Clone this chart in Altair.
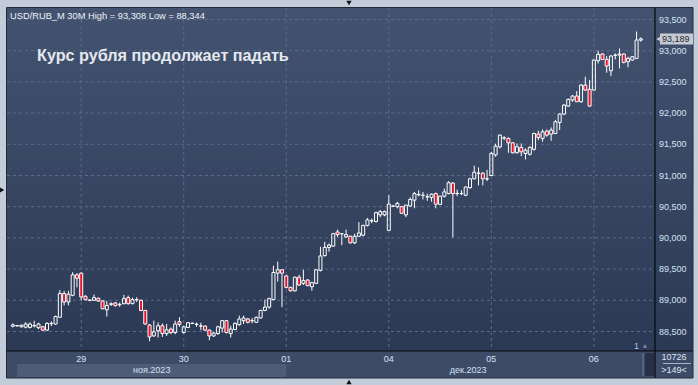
import altair as alt
import pandas as pd

# ---------------- data ----------------
opens = [88.585, 88.590, 88.575, 88.570, 88.565, 88.590, 88.560, 88.576, 88.522, 88.625,
         88.620, 88.728, 89.109, 88.973, 89.080, 89.408, 89.435, 89.065, 89.005, 89.000,
         89.033, 88.990, 88.848, 88.935, 88.957, 88.930, 88.946, 89.043, 88.946, 89.008,
         89.000, 88.837, 88.603, 88.429, 88.511, 88.592, 88.467, 88.538, 88.484, 88.658,
         88.484, 88.565, 88.630, 88.614, 88.587, 88.587, 88.522, 88.429, 88.467, 88.554,
         88.674, 88.467, 88.533, 88.609, 88.674, 88.701, 88.672, 88.647, 88.717, 88.837,
         88.891, 89.011, 89.435, 89.489, 89.391, 89.207, 89.152, 89.370, 89.272, 89.326,
         89.217, 89.272, 89.479, 89.716, 89.847, 89.868, 90.095, 90.066, 90.016, 90.026,
         89.921, 90.026, 90.042, 90.200, 90.273, 90.263, 90.368, 90.368, 90.121, 90.508,
         90.500, 90.500, 90.368, 90.510, 90.605, 90.690, 90.682, 90.658, 90.647, 90.710,
         90.537, 90.668, 90.710, 90.879, 90.710, 90.710, 90.684, 90.805, 90.947, 91.035,
         91.037, 90.945, 91.000, 91.330, 91.460, 91.600, 91.594, 91.524, 91.364, 91.450,
         91.353, 91.340, 91.420, 91.663, 91.594, 91.711, 91.663, 91.674, 91.850, 91.984,
         92.112, 92.210, 92.273, 92.182, 92.449, 92.380, 92.369, 92.840, 92.947, 92.861,
         92.679, 92.925, 92.930, 92.947, 92.824, 92.850, 92.877, 93.170]
highs = [88.630, 88.605, 88.610, 88.650, 88.645, 88.674, 88.640, 88.590, 88.647, 88.663,
         88.755, 89.163, 89.152, 89.152, 89.451, 89.435, 89.446, 89.080, 89.011, 89.092,
         89.043, 89.000, 88.989, 88.967, 88.973, 88.962, 89.087, 89.076, 89.043, 89.049,
         89.011, 88.848, 88.620, 88.674, 88.647, 88.630, 88.620, 88.565, 88.674, 88.728,
         88.592, 88.652, 88.641, 88.641, 88.641, 88.598, 88.533, 88.495, 88.592, 88.685,
         88.685, 88.592, 88.647, 88.755, 88.755, 88.717, 88.717, 88.739, 88.848, 89.011,
         89.043, 89.554, 89.620, 89.500, 89.402, 89.217, 89.380, 89.408, 89.489, 89.337,
         89.299, 89.500, 89.858, 89.937, 89.911, 90.079, 90.132, 90.079, 90.132, 90.037,
         90.068, 90.253, 90.211, 90.320, 90.310, 90.421, 90.447, 90.437, 90.684, 90.520,
         90.579, 90.511, 90.526, 90.647, 90.737, 90.763, 90.737, 90.710, 90.710, 90.726,
         90.679, 90.790, 90.910, 90.895, 90.774, 90.763, 90.826, 90.963, 91.158, 91.130,
         91.053, 91.090, 91.380, 91.510, 91.658, 91.630, 91.610, 91.535, 91.513, 91.513,
         91.433, 91.470, 91.685, 91.717, 91.738, 91.738, 91.770, 91.888, 91.995, 92.144,
         92.235, 92.289, 92.353, 92.465, 92.583, 92.529, 92.861, 93.000, 92.957, 92.914,
         92.930, 92.957, 93.037, 92.957, 92.904, 92.915, 93.308, 93.214]
lows = [88.565, 88.580, 88.565, 88.550, 88.550, 88.565, 88.540, 88.510, 88.510, 88.587,
        88.610, 88.720, 88.918, 88.918, 89.065, 89.207, 89.000, 89.000, 88.984, 88.990,
        88.973, 88.859, 88.739, 88.908, 88.902, 88.897, 88.935, 88.930, 88.935, 88.973,
        88.826, 88.610, 88.344, 88.413, 88.402, 88.413, 88.429, 88.457, 88.457, 88.576,
        88.467, 88.554, 88.620, 88.576, 88.522, 88.511, 88.360, 88.413, 88.446, 88.484,
        88.467, 88.402, 88.522, 88.592, 88.620, 88.630, 88.630, 88.641, 88.707, 88.826,
        88.864, 89.000, 89.299, 88.891, 89.190, 89.141, 89.141, 89.228, 89.245, 89.228,
        89.152, 89.261, 89.463, 89.700, 89.779, 89.858, 90.016, 89.884, 90.000, 89.910,
        89.900, 90.016, 90.026, 90.184, 90.237, 90.247, 90.332, 90.347, 90.121, 90.495,
        90.474, 90.384, 90.332, 90.500, 90.474, 90.668, 90.616, 90.595, 90.579, 90.474,
        90.526, 90.647, 90.700, 90.010, 90.668, 90.684, 90.668, 90.789, 90.937, 90.842,
        90.842, 90.910, 90.990, 91.300, 91.433, 91.567, 91.364, 91.353, 91.353, 91.310,
        91.257, 91.320, 91.396, 91.567, 91.540, 91.620, 91.556, 91.663, 91.727, 91.968,
        92.100, 92.182, 92.182, 92.166, 92.358, 92.100, 92.358, 92.797, 92.850, 92.647,
        92.594, 92.861, 92.717, 92.797, 92.733, 92.840, 92.877, 93.144]
closes = [88.605, 88.595, 88.600, 88.620, 88.620, 88.595, 88.620, 88.522, 88.630, 88.630,
          88.740, 89.109, 88.973, 89.098, 89.408, 89.353, 89.054, 89.010, 89.000, 89.043,
          88.990, 88.864, 88.918, 88.945, 88.913, 88.935, 89.027, 88.946, 89.011, 89.011,
          88.837, 88.620, 88.413, 88.494, 88.592, 88.467, 88.527, 88.484, 88.620, 88.614,
          88.576, 88.641, 88.633, 88.617, 88.590, 88.522, 88.429, 88.473, 88.576, 88.674,
          88.484, 88.538, 88.630, 88.701, 88.717, 88.647, 88.674, 88.728, 88.837, 88.891,
          89.027, 89.446, 89.489, 89.435, 89.207, 89.152, 89.370, 89.245, 89.315, 89.234,
          89.283, 89.489, 89.711, 89.847, 89.884, 90.068, 90.053, 90.068, 90.053, 89.921,
          90.026, 90.079, 90.200, 90.289, 90.274, 90.405, 90.421, 90.421, 90.542, 90.511,
          90.553, 90.395, 90.526, 90.616, 90.710, 90.695, 90.684, 90.660, 90.700, 90.542,
          90.668, 90.737, 90.884, 90.710, 90.713, 90.712, 90.816, 90.947, 91.053, 91.037,
          90.947, 90.947, 91.355, 91.470, 91.647, 91.604, 91.524, 91.364, 91.460, 91.380,
          91.406, 91.450, 91.674, 91.610, 91.700, 91.647, 91.727, 91.861, 91.984, 92.128,
          92.219, 92.273, 92.182, 92.449, 92.369, 92.112, 92.850, 92.941, 92.861, 92.754,
          92.914, 92.930, 92.947, 92.813, 92.877, 92.904, 93.171, 93.189]

day_index = [16, 40, 64, 88, 112, 136]
day_labels = ["29", "30", "01", "04", "05", "06"]
price_ticks = [88.5, 89.0, 89.5, 90.0, 90.5, 91.0, 91.5, 92.0, 92.5, 93.0, 93.5]
month_labels = ["ноя.2023", "дек.2023"]
month_start = [1, 64]
month_end = [64, 149.14]
header_text = "USD/RUB_M 30M High = 93,308 Low = 88,344"
title_text = "Курс рубля продолжает падать"
bar_total = "10726"
bars_visible = ">149<"

# ---------------- layout ----------------
W, H = 648, 343
XDOM = [-0.2, 149.14]
YDOM = [88.1875, 93.6843]
xs = alt.Scale(domain=XDOM, nice=False, zero=False)
ys = alt.Scale(domain=YDOM, nice=False, zero=False)

FONT = "Liberation Sans"
LABEL = "#d2e2f4"
GRID = "#5b6b89"

df = pd.DataFrame({"i": list(range(len(opens))), "O": opens, "H": highs, "L": lows, "C": closes})
df["top"] = df[["O", "C"]].max(axis=1)
df["bot"] = df[["O", "C"]].min(axis=1)
df["up"] = df["C"] >= df["O"]

one = pd.DataFrame({"k": [0]})
grad = alt.Gradient(gradient="linear", x1=0, x2=0, y1=0, y2=1,
                    stops=[alt.GradientStop(color="#43536f", offset=0),
                           alt.GradientStop(color="#2c3955", offset=1)])

bg_plot = alt.Chart(one).mark_rect(color=grad).encode(
    x=alt.value(0), x2=alt.value(W), y=alt.value(0), y2=alt.value(H))
bg_right = alt.Chart(one).mark_rect(color=grad).encode(
    x=alt.value(W), x2=alt.value(686), y=alt.value(0), y2=alt.value(H))
bg_bottom = alt.Chart(one).mark_rect(color="#3e4b67").encode(
    x=alt.value(0), x2=alt.value(686), y=alt.value(H), y2=alt.value(370))

mdf = pd.DataFrame({"m": month_labels, "s": month_start, "e": month_end})
mdf["mid"] = (mdf["s"] + mdf["e"]) / 2
month_bar = alt.Chart(mdf.iloc[:1]).mark_rect(color="#4f5c78").encode(
    x=alt.X("s:Q", scale=xs, axis=None), x2="e:Q",
    y=alt.value(356), y2=alt.value(369))
month_text = alt.Chart(mdf).mark_text(font=FONT, fontSize=9, color=LABEL, baseline="middle").encode(
    x=alt.X("mid:Q", scale=xs, axis=None), y=alt.value(362), text="m:N")

tdf = pd.DataFrame({"v": price_ticks})
tdf["lab"] = [f"{v:.3f}".replace(".", ",") for v in price_ticks]
hgrid = alt.Chart(tdf).mark_rule(color=GRID, strokeDash=[3, 3], strokeWidth=1).encode(
    y=alt.Y("v:Q", scale=ys, axis=None), x=alt.value(0), x2=alt.value(W))
ylab = alt.Chart(tdf).mark_text(font=FONT, fontSize=9, color=LABEL, align="left", baseline="middle").encode(
    y=alt.Y("v:Q", scale=ys, axis=None), x=alt.value(652), text="lab:N")

ddf = pd.DataFrame({"i": day_index, "lab": day_labels})
vgrid = alt.Chart(ddf).mark_rule(color=GRID, strokeDash=[3, 3], strokeWidth=1).encode(
    x=alt.X("i:Q", scale=xs, axis=None), y=alt.value(0), y2=alt.value(H))
xlab = alt.Chart(ddf).mark_text(font=FONT, fontSize=9, color=LABEL, baseline="middle").encode(
    x=alt.X("i:Q", scale=xs, axis=None), y=alt.value(350.5), text="lab:N")

base = alt.Chart(df)
wick_up = base.mark_rule(color="white", strokeWidth=1).encode(
    x=alt.X("i:Q", scale=xs, axis=None), y=alt.Y("top:Q", scale=ys, axis=None), y2="H:Q")
wick_dn = base.mark_rule(color="white", strokeWidth=1).encode(
    x=alt.X("i:Q", scale=xs, axis=None), y=alt.Y("L:Q", scale=ys, axis=None), y2="bot:Q")
body_up = base.transform_filter("datum.up").mark_bar(
    size=3, fillOpacity=0, fill="#000000", stroke="white", strokeWidth=1).encode(
    x=alt.X("i:Q", scale=xs, axis=None), y=alt.Y("bot:Q", scale=ys, axis=None), y2="top:Q")
body_dn = base.transform_filter("!datum.up").mark_bar(
    size=3, fill="#e3132c", stroke="white", strokeWidth=1).encode(
    x=alt.X("i:Q", scale=xs, axis=None), y=alt.Y("bot:Q", scale=ys, axis=None), y2="top:Q")

vline = alt.Chart(one).mark_rule(color="#05070c", strokeWidth=1.2).encode(
    x=alt.value(W), y=alt.value(0), y2=alt.value(370))
hline = alt.Chart(one).mark_rule(color="#05070c", strokeWidth=1.2).encode(
    x=alt.value(0), x2=alt.value(686), y=alt.value(H), y2=alt.value(H))
frame = alt.Chart(one).mark_rect(fillOpacity=0, stroke="#222a3a", strokeWidth=1).encode(
    x=alt.value(-0.5), x2=alt.value(686), y=alt.value(-0.5), y2=alt.value(370))

scroll = alt.Chart(one).mark_rect(color="#263048").encode(
    x=alt.value(638), x2=alt.value(W - 1), y=alt.value(345), y2=alt.value(368))
scroll_edge = alt.Chart(one).mark_rule(color="#6d7a93").encode(
    x=alt.value(636), y=alt.value(345), y2=alt.value(368))

last = df.iloc[[-1]].copy()
last["lab"] = f"{closes[-1]:.3f}".replace(".", ",")
price_box = alt.Chart(last).mark_tick(orient="horizontal", color="#c6cbd3", size=33, thickness=11, opacity=1).encode(
    y=alt.Y("C:Q", scale=ys, axis=None), x=alt.value(669.5))
price_arrow = alt.Chart(last).mark_point(shape="triangle-left", filled=True, color="#c6cbd3", size=40, opacity=1).encode(
    y=alt.Y("C:Q", scale=ys, axis=None), x=alt.value(652))
price_text = alt.Chart(last).mark_text(font=FONT, fontSize=9, color="#1f2838", align="left", baseline="middle").encode(
    y=alt.Y("C:Q", scale=ys, axis=None), x=alt.value(655), text="lab:N")

header = alt.Chart(pd.DataFrame({"t": [header_text]})).mark_text(
    font=FONT, fontSize=9.3, color="#eef2f8", align="left", baseline="middle").encode(
    x=alt.value(3), y=alt.value(7.5), text="t:N")
title = alt.Chart(pd.DataFrame({"t": [title_text]})).mark_text(
    font=FONT, fontSize=16.2, fontWeight="bold", color="#e4e8ef", align="left", baseline="middle").encode(
    x=alt.value(30), y=alt.value(47.5), text="t:N")

br = pd.DataFrame({"t": [bar_total, bars_visible], "yy": [349, 362]})
br_text = alt.Chart(br).mark_text(font=FONT, fontSize=9, color="#dce6f2", baseline="middle").encode(
    x=alt.value(667), y=alt.Y("yy:Q", scale=None, axis=None), text="t:N")
br_line = alt.Chart(one).mark_rule(color="#aab4c4").encode(
    x=alt.value(656), x2=alt.value(684), y=alt.value(355.5), y2=alt.value(355.5))

one_lab = alt.Chart(pd.DataFrame({"t": ["1"]})).mark_text(
    font=FONT, fontSize=9, color="#9cc4ee", baseline="middle").encode(
    x=alt.value(629.5), y=alt.value(338), text="t:N")
one_tri = alt.Chart(one).mark_point(shape="triangle-up", filled=True, color="#7f8ca4", size=18, opacity=1).encode(
    x=alt.value(638), y=alt.value(338))

arrows = pd.DataFrame({"px": [342, -5, 342], "py": [-5, 182, 374],
                       "s": ["triangle-down", "triangle-right", "triangle-up"]})
edge_arrows = alt.Chart(arrows).mark_point(filled=True, color="#111111", size=28, opacity=1).encode(
    x=alt.X("px:Q", scale=None, axis=None), y=alt.Y("py:Q", scale=None, axis=None),
    shape=alt.Shape("s:N", scale=None, legend=None))

chart = alt.layer(
    bg_plot, bg_right, bg_bottom, month_bar, hgrid, vgrid,
    wick_up, wick_dn, body_up, body_dn,
    scroll, scroll_edge, vline, hline, frame,
    ylab, xlab, month_text, price_box, price_arrow, price_text,
    header, title, br_text, br_line, one_lab, one_tri, edge_arrows
).properties(
    width=W, height=H, autosize="none",
    padding={"left": 7, "top": 8, "right": 43, "bottom": 34},
    background="#c3cdd9"
).configure_view(stroke=None)

chart.save("out.html", embed_options={"renderer": "svg", "actions": False})
